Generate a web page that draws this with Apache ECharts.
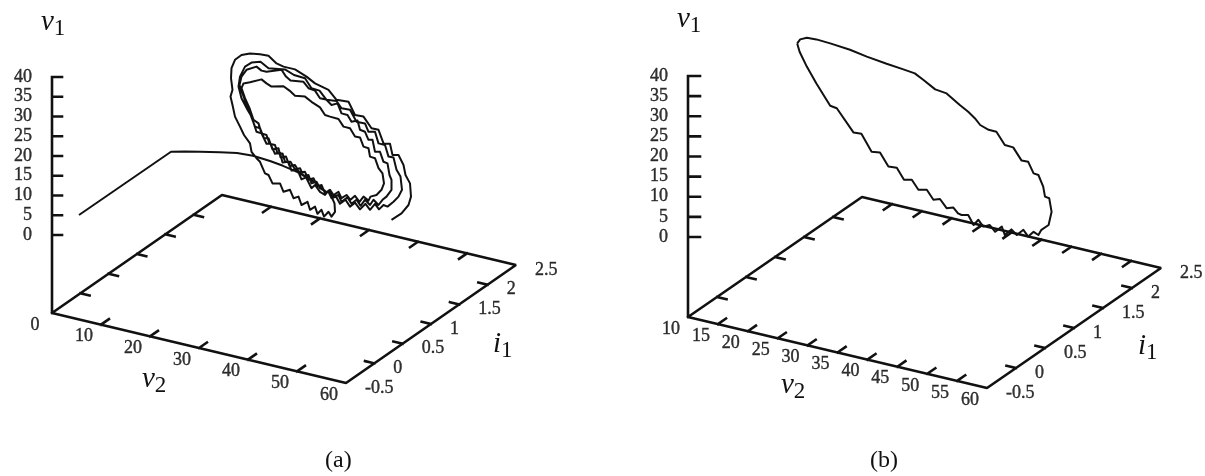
<!DOCTYPE html>
<html>
<head>
<meta charset="utf-8">
<title>v1 v2 i1 phase plots</title>
<script src="https://cdn.jsdelivr.net/npm/echarts@6/dist/echarts.min.js"></script>
<style>
  html, body { margin: 0; padding: 0; background: #fff; }
  #chart { width: 1205px; height: 476px; }
</style>
</head>
<body>
<div id="chart"></div>
<script>
const v1Ticks = [0, 5, 10, 15, 20, 25, 30, 35, 40];
const i1Ticks = [-0.5, 0, 0.5, 1, 1.5, 2, 2.5];
const v2TicksA = [0, 10, 20, 30, 40, 50, 60];
const v2TicksB = [10, 15, 20, 25, 30, 35, 40, 45, 50, 55, 60];

// trajectories: [v2 seen along the i1 axis, v1 seen along the i1 axis]
const curveA = [
  [5.4,5],[23.8,20.8],[26.6,20.9],[29.6,20.8],[33.6,20.7],[37,20.5],[40.2,19.8],[43.6,18.5],[46.2,17.3],[49,15.8],[51.2,14.2],[52.9,12.9],[54.8,10.8],
  [53.6,11.7],[52.9,13.3],[51.9,12.9],[51.3,15],[50.3,14.8],[49.6,16.7],[48.6,16.4],[47.7,18.3],[46.6,18.3],[46.1,20.4],[45.1,20.4],[44.6,22.5],[43.5,22.8],[42.9,25],[41.9,25.4],[41.3,27.9],[40.3,28.8],[39.5,31.7],[38.6,34.2],[37.9,36.7],
  [38.3,37.9],[39.6,38.2],[41.9,38.9],[42.9,37.9],[43.9,37.1],[46.3,37.2],[47.5,36.1],[48.6,34.8],[50.6,34.6],[51.9,33.3],[53.6,31.9],[54.6,30],[55.6,29.6],[57.3,29],[58.3,27.1],[59.6,26.7],[60.6,24.6],[61.6,24.4],[62.3,22.1],[63.3,21.7],[63.6,19.6],[64.6,19.2],[65.3,16.7],[66.1,15.4],[66.4,12.9],[65.9,11.3],[64.9,10],[63.7,9.6],[63.3,8.6],[62.3,9.6],[61.5,8.3],[60.6,9.8],[59.7,8.8],[58.9,10],[57.9,9.2],[57.3,10.8],[56.3,10],[55.6,11.3],[54.6,10.4],
  [53.9,12.5],[53.1,12.1],[52.3,14.2],[51.3,13.8],[50.6,15.8],[49.5,15.6],[48.6,17.5],[47.5,17.3],[46.8,19.6],[45.7,19.4],[45.3,21.7],[44.1,21.4],[43.3,24.2],[42.4,24.2],[41.6,26.7],[40.6,27.1],[39.6,30.4],[38.9,32.5],[38.1,35.4],[37.5,37.5],
  [37.9,39.6],[38.9,41.3],[40.9,42.1],[41.9,41.1],[42.9,40.8],[45.9,41.3],[46.8,39.6],[47.7,38.6],[50.3,38.3],[51.3,36.7],[52.6,36.1],[53.6,34.2],[54.8,33.9],[55.9,32.5],[57.1,32.9],[57.9,30.4],[59.1,30],[59.9,28.3],[61.1,28.6],[61.6,26.3],[62.6,25.8],[63.3,23.8],[64.1,23.8],[64.6,20.8],[65.6,20.8],[66.3,18.3],[67.1,17.9],[67.5,15],[67.9,13.8],[67.9,11.3],[66.9,9.6],[66.1,8.8],[65.3,7.5],[64.3,8.8],[63.6,7.5],[62.6,8.8],[61.7,7.3],[60.9,8.8],[59.9,7.8],[59.1,9.4],[57.9,8.3],[57.3,10],[56.3,9.6],[55.3,11.1],
  [54.6,10],[53.6,10.8],[52.6,12.5],[51.9,11.7],[50.8,14.4],[49.9,13.9],[49.1,16.3],[47.9,16.1],[47.3,18.3],[46.1,18.1],[45.6,20.6],[44.6,20.3],[43.7,22.8],[42.9,22.8],[41.9,25.4],[40.9,25.8],[39.9,29.6],[39.1,31.3],[37.9,34.2],[37.3,37.1],
  [37.6,39.6],[38.6,42.1],[39.9,43.1],[41.7,43.3],[43.3,41.7],[46.6,41.4],[48.4,40],[50.6,39.2],[51.9,36.7],[53.5,36.1],[54.9,33.8],[56.9,33.5],[57.9,31.7],[59.6,31.3],[60.9,28.3],[62.6,27.9],[63.3,25.8],[64.6,25.8],[65.3,22.9],[66.6,22.5],[67.3,19.6],[68.3,19.4],[68.9,16.3],[69.7,14.6],[70,11.3],[69.3,9.6],[68.3,8.3],[67.1,7.1],[66.3,7.5],[65.4,6.4],[64.6,7.8],[63.6,6.3],[62.7,7.8],[61.6,6.4],[60.6,8.1],[59.6,7.1],[58.7,8.8],[57.6,7.8],[56.8,9.6],[55.9,9.2],[55.3,10.8],
  [55.9,9.6],[56.5,7.9],[56.6,5.8],[55.9,4.6],[55.3,5.8],[54.4,4.6],[53.9,6.3],[53.1,5.3],[52.6,7.1],[51.6,6.3],[51.1,8.3],[49.9,7.5],[49.3,9.6],[48.3,9.2],[47.6,11.3],[46.3,10.8],[45.6,12.9],[44.1,12.9],[43.3,15],[42.6,15.4],[41.6,18.3],[40.9,19.2],[39.9,20.8],[39.6,22.9],[38.4,25],[37.6,27.1],[36.6,29.6],[36.1,32.5],[35.7,34.6],
  [36.1,36.3],[35.8,39.2],[35.9,41.7],[36.6,43.8],[37.9,45],[39.6,45.4],[41.6,45.2],[43.3,44.8],[44.9,42.9],[46.3,42.1],[48.6,41.4],[50.9,39.6],[52.6,37.9],[55.3,36.3],[56.9,33.8],[59.3,33.3],[60.6,30],[62.3,29.6],[63.9,26.7],[65.3,26.3],[66.3,22.9],[67.6,22.8],[68.1,20],[69.3,20],[70.3,17.5],[70.7,15],[71.6,12.9],[71.8,9.6],[71.3,7.5],[69.9,5.4],[67.9,3.8]
];

const curveB = [
  [28.2,48.4],[28.7,49.4],[29.8,49.8],[31.4,49.4],[33.7,48.4],[37,46.8],[39.8,45.1],[43.1,43.3],[45.9,41.9],[47.8,40.9],[49.2,39.3],[51.2,36.9],[53.1,35.9],[55.3,33],[56.7,31.3],[57.8,29.7],[58.7,28],[60.1,26.8],[61.4,26.3],[62.8,23],[64.2,22.4],[65.6,19.1],[66.7,18.8],[67.6,15.9],[68.4,15.5],[69.2,12.6],[69.5,10.1],[70.2,9.7],[70.6,6.3],[70.1,3],[68.9,1.8],[68.4,0.5],[67.6,1.3],[66.7,0.1],[65.9,1.8],[64.8,0.5],[63.9,1.9],[62.8,0.5],[62.3,2.6],[61.2,1.3],[60.3,3],[59.2,2.6],[58.4,4.3],[57.6,3],[56.7,5.5],[55.6,5.5],[55,5.9],[54.2,7.4],[53.1,7.2],[52,9.5],[50.9,9.3],[49.8,11.8],[48.4,11.8],[47.3,14.3],[46,14.3],[44.8,17.3],[43.4,17.6],[42,21.1],[40.6,21.3],[38.9,25.8],[37.6,26.1],[34.8,32.2],[33.7,32.8],[31.4,38.4],[29.8,42.6],[28.6,46.3],[28.2,48.4]
];

// oblique view of each panel: how one unit of v2, i1, v1 moves on the hidden plane axes
const panelA = {
  v2Ticks: v2TicksA, curve: curveA,
  grid: { left: 0, top: 0, width: 600, height: 476 },
  x: [-10.4, 109.6], y: [-60.25, 58.75],
  h0: 0, floorZ: -19.5, v2H: 0.98, v2Z: 0.2917, i1H: 11.33, i1Z: 9.83, v1Z: 0.9875, i1Tick: 1.9,
};
const panelB = {
  v2Ticks: v2TicksB, curve: curveB,
  grid: { left: 602, top: 0, width: 603, height: 476 },
  x: [-4.3333, 96.1667], y: [-59.75, 59.25],
  h0: 10, floorZ: -20, v2H: 0.9967, v2Z: 0.355, i1H: 9.667, i1Z: 10, v1Z: 1.00625, i1Tick: 1.6,
};

const serif = "'Liberation Serif', 'Times New Roman', serif";
const ink = "#111";

const project = (p, v2, i1, v1) => {
  const dv = v2 - p.v2Ticks[0];
  const di = i1 - i1Ticks[0];
  return [p.h0 + dv * p.v2H + di * p.i1H, v1 * p.v1Z - dv * p.v2Z + di * p.i1Z];
};

// hidden frame: floor box, v1 axis and the mirrored ticks
const frameData = (p) => {
  const first = p.v2Ticks[0];
  const last = p.v2Ticks[p.v2Ticks.length - 1];
  const iLow = i1Ticks[0];
  const iHigh = i1Ticks[i1Ticks.length - 1];
  const floor = p.floorZ / p.v1Z;
  const gap = [null, null];
  const out = [
    project(p, first, iLow, v1Ticks[v1Ticks.length - 1]),
    project(p, first, iLow, floor),
    project(p, last, iLow, floor),
    project(p, last, iHigh, floor),
    project(p, first, iHigh, floor),
    project(p, first, iLow, floor),
    gap,
  ];
  const tickI = 0.14;
  p.v2Ticks.slice(1, -1).forEach((v) => {
    out.push(project(p, v, iLow, floor), project(p, v, iLow + tickI, floor), gap);
    out.push(project(p, v, iHigh, floor), project(p, v, iHigh - tickI, floor), gap);
  });
  i1Ticks.slice(1, -1).forEach((v) => {
    out.push(project(p, first, v, floor), project(p, first + p.i1Tick, v, floor), gap);
    out.push(project(p, last, v, floor), project(p, last - p.i1Tick, v, floor), gap);
  });
  v1Ticks.forEach((v) => {
    const a = project(p, first, iLow, v);
    out.push(a, [a[0] + 2, a[1]], gap);
  });
  return out;
};

const tickLabels = (p, offV1) => {
  const first = p.v2Ticks[0];
  const floor = p.floorZ / p.v1Z;
  const out = [];
  v1Ticks.forEach((v) => out.push({
    value: project(p, first, i1Ticks[0], v),
    label: { formatter: String(v), align: "right", offset: [offV1, 0] },
  }));
  p.v2Ticks.forEach((v) => out.push({
    value: project(p, v, i1Ticks[0], floor),
    label: { formatter: String(v), align: "center", offset: [-17, 12] },
  }));
  i1Ticks.forEach((v) => out.push({
    value: project(p, p.v2Ticks[p.v2Ticks.length - 1], v, floor),
    label: { formatter: String(v), align: "left", offset: [19, 5] },
  }));
  return out;
};

const panelSeries = (p, index, offV1) => [
  {
    type: "line", xAxisIndex: index, yAxisIndex: index,
    data: frameData(p), showSymbol: false, silent: true, connectNulls: false,
    lineStyle: { color: ink, width: 2.6, cap: "square" },
  },
  {
    type: "line", xAxisIndex: index, yAxisIndex: index,
    data: p.curve, showSymbol: false, silent: true,
    lineStyle: { color: ink, width: 2, join: "round" },
  },
  {
    type: "scatter", xAxisIndex: index, yAxisIndex: index,
    data: tickLabels(p, offV1), symbolSize: 1, silent: true,
    itemStyle: { color: "transparent" },
    label: {
      show: true, position: "inside", verticalAlign: "middle",
      fontFamily: serif, fontSize: 18, color: "#000",
      textBorderColor: "#000", textBorderWidth: 0.4,
    },
  },
];

const axisTitle = (main, sub, left, top) => ({
  text: "{m|" + main + "}{s|" + sub + "}",
  left, top, padding: 0,
  textStyle: {
    rich: {
      m: { fontFamily: serif, fontStyle: "italic", fontWeight: "normal", fontSize: 29, lineHeight: 32, verticalAlign: "top", color: ink },
      s: { fontFamily: serif, fontWeight: "normal", fontSize: 23, lineHeight: 32, verticalAlign: "bottom", color: ink },
    },
  },
});
const caption = (text, left, top) => ({
  text, left, top, padding: 0,
  textStyle: { fontFamily: serif, fontWeight: "normal", fontSize: 24, color: ink },
});

const panels = [panelA, panelB];
const option = {
  backgroundColor: "#fff",
  animation: false,
  title: [
    axisTitle("v", "1", 41, 8),
    axisTitle("v", "2", 142, 365),
    axisTitle("i", "1", 493, 330),
    axisTitle("v", "1", 677, 5),
    axisTitle("v", "2", 781, 371),
    axisTitle("i", "1", 1138, 332),
    caption("(a)", 325, 449),
    caption("(b)", 870, 449),
  ],
  grid: panels.map((p) => p.grid),
  xAxis: panels.map((p, i) => ({ type: "value", gridIndex: i, min: p.x[0], max: p.x[1], show: false })),
  yAxis: panels.map((p, i) => ({ type: "value", gridIndex: i, min: p.y[0], max: p.y[1], show: false })),
  series: [...panelSeries(panelA, 0, -20), ...panelSeries(panelB, 1, -20)],
};

const chart = echarts.init(document.getElementById("chart"), null, { renderer: "canvas" });
chart.setOption(option);
</script>
</body>
</html>
